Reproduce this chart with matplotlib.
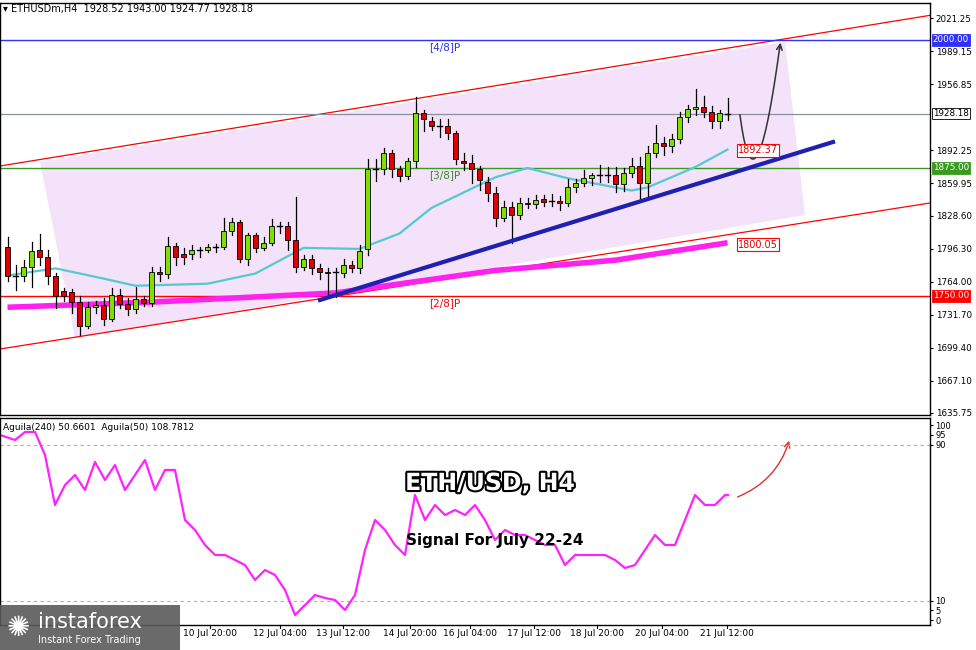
import matplotlib
matplotlib.use("Agg")
import matplotlib.pyplot as plt
import numpy as np
from matplotlib.patches import Polygon, FancyArrowPatch, Rectangle
import matplotlib.patheffects as pe

W, H = 976, 650
opens = [1798,1770,1770,1778,1795,1788,1770,1755,1754,1744,1721,1739,1741,1728,1751,1742,1737,1747,1743,1773,1771,1799,1791,1791,1795,1795,1798,1798,1813,1822,1786,1810,1797,1802,1818,1818,1805,1778,1786,1777,1773,1773,1772,1780,1777,1796,1874,1874,1890,1874,1867,1882,1929,1921,1916,1916,1909,1882,1880,1874,1861,1851,1826,1837,1829,1841,1840,1845,1843,1843,1841,1856,1860,1865,1868,1868,1868,1859,1870,1877,1860,1890,1899,1896,1903,1925,1933,1935,1930,1921,1928]
closes = [1770,1770,1778,1794,1788,1770,1750,1750,1744,1721,1739,1741,1728,1751,1742,1737,1747,1743,1773,1771,1799,1788,1788,1795,1795,1798,1798,1813,1822,1786,1810,1797,1802,1818,1818,1805,1778,1786,1777,1773,1772,1773,1780,1777,1794,1874,1874,1890,1874,1867,1882,1929,1923,1916,1916,1909,1884,1880,1874,1863,1851,1826,1837,1829,1841,1840,1844,1842,1843,1841,1856,1860,1865,1868,1868,1868,1859,1870,1877,1860,1890,1899,1896,1903,1925,1933,1935,1930,1921,1929,1928]
highs = [1808,1780,1785,1803,1811,1795,1772,1758,1757,1750,1744,1745,1748,1758,1757,1748,1759,1750,1778,1778,1808,1802,1797,1800,1798,1801,1801,1826,1826,1824,1812,1812,1808,1825,1822,1822,1847,1790,1790,1781,1777,1777,1786,1784,1800,1884,1884,1895,1893,1877,1885,1944,1932,1925,1923,1923,1911,1890,1888,1877,1866,1856,1843,1842,1846,1846,1849,1849,1850,1848,1864,1864,1873,1870,1878,1876,1876,1875,1885,1886,1896,1917,1905,1908,1930,1937,1952,1945,1936,1932,1943]
lows = [1765,1756,1765,1759,1780,1762,1738,1745,1733,1712,1719,1733,1722,1726,1738,1731,1733,1740,1740,1765,1768,1780,1781,1786,1788,1793,1793,1796,1810,1783,1780,1793,1795,1800,1812,1795,1773,1775,1771,1767,1749,1749,1769,1773,1772,1790,1862,1869,1866,1862,1864,1876,1911,1912,1905,1903,1879,1873,1860,1854,1843,1818,1823,1802,1825,1836,1836,1838,1838,1834,1838,1852,1857,1858,1861,1861,1852,1853,1866,1844,1848,1886,1888,1891,1899,1920,1927,1925,1914,1914,1922]

ma_fast_idx = [0,6,12,16,25,31,37,44,49,53,61,65,70,78,80,86,90]
ma_fast = [1770,1777,1767,1760,1762,1772,1797,1796,1811,1836,1866,1875,1865,1853,1856,1876,1893]
ma_slow_idx = [0,18,41,61,76,90]
ma_slow = [1739,1744,1753,1775,1785,1802]

osc_x = [0,15,25,35,45,55,65,75,85,95,105,115,125,135,145,155,165,175,185,195,205,215,225,235,245,255,265,275,285,295,305,315,325,335,345,355,365,375,385,395,405,415,425,435,445,455,465,475,485,495,505,515,525,535,545,555,565,575,585,595,605,615,625,635,645,655,665,675,685,695,705,715,725,728]
osc_y = [435,440,432,432,455,505,485,475,490,462,480,465,490,475,460,490,470,470,520,530,545,555,555,560,565,580,570,575,590,615,605,595,598,600,610,595,550,520,530,545,555,495,520,505,515,510,515,505,520,540,530,535,535,540,545,545,565,555,555,555,555,560,568,565,550,535,545,545,520,495,505,505,495,495]
osc_vals = [(620 - y) / 195 * 100 for y in osc_y]

price_ticks = [2021.25,1989.15,1956.85,1892.25,1859.95,1828.60,1796.30,1764.00,1731.70,1699.40,1667.10,1635.75]
time_labels = ["10 Jul 20:00","12 Jul 04:00","13 Jul 12:00","14 Jul 20:00","16 Jul 04:00","17 Jul 12:00","18 Jul 20:00","20 Jul 04:00","21 Jul 12:00"]
time_px = [210,280,343,410,470,534,597,662,727]

fig = plt.figure(figsize=(W/100, H/100), dpi=100)
fig.patch.set_facecolor("white")
CW = 930
def px2idx(x): return (x - 7.5) / 8
def py2p(y): return 2000 - (y - 40) * 250/256

mt, mb = 3, 415
ax = fig.add_axes([0, 1 - mb/H, CW/W, (mb-mt)/H])
ax.set_xlim(px2idx(0), px2idx(CW))
ax.set_ylim(py2p(mb), py2p(mt))
for s in ax.spines.values(): s.set_color("black"); s.set_linewidth(1)
ax.set_xticks([]); ax.yaxis.tick_right()
ax.set_yticks(price_ticks)
ax.set_yticklabels([f"{v:.2f}" for v in price_ticks], fontsize=6.3)
ax.tick_params(axis='y', length=2, pad=2)

poly = [(40,162),(785,42),(805,215),(75,338)]
ax.add_patch(Polygon([(px2idx(x), py2p(y)) for x,y in poly], closed=True, facecolor="#f3e2fa", edgecolor="none", zorder=0))
ax.plot([px2idx(0), px2idx(CW)], [py2p(166), py2p(166-0.162*CW)], color="red", lw=0.9)
ax.plot([px2idx(0), px2idx(CW)], [py2p(349), py2p(349-0.157*CW)], color="red", lw=0.9)
ax.axhline(2000, color="#3030ff", lw=1)
ax.axhline(1928.18, color="#8890a0", lw=0.9)
ax.axhline(1875, color="#3a9a20", lw=1)
ax.axhline(1750, color="red", lw=1)
ax.text(px2idx(445), py2p(47), "[4/8]P", color="#3030ff", fontsize=7.5, ha="center", va="center")
ax.text(px2idx(445), py2p(175), "[3/8]P", color="#3a8a20", fontsize=7.5, ha="center", va="center")
ax.text(px2idx(445), py2p(303), "[2/8]P", color="red", fontsize=7.5, ha="center", va="center")

ax.plot(ma_slow_idx, ma_slow, color="#ff22ee", lw=4, solid_capstyle="butt", zorder=2)
ax.plot(ma_fast_idx, ma_fast, color="#55c8d0", lw=1.6, zorder=2)

for i,(o,c,h,l) in enumerate(zip(opens,closes,highs,lows)):
    ax.plot([i,i],[l,h], color="black", lw=0.9, zorder=3)
    col = "#7fe000" if c > o else "#e00000"
    if c == o:
        ax.plot([i-0.35,i+0.35],[c,c], color="black", lw=1, zorder=4)
    else:
        ax.add_patch(Rectangle((i-0.35, min(o,c)), 0.7, abs(c-o), facecolor=col, edgecolor="black", lw=0.6, zorder=4))

ax.plot([px2idx(320), px2idx(833)], [py2p(300), py2p(142)], color="#2020b0", lw=3, zorder=5)
tt = np.linspace(0,1,60)
bx = (1-tt)**2*740 + 2*(1-tt)*tt*755 + tt**2*780
by = (1-tt)**2*115 + 2*(1-tt)*tt*230 + tt**2*45
ax.plot(px2idx(bx), py2p(by), color="#333333", lw=1.1, zorder=6)
ax.annotate("", xy=(px2idx(781), py2p(40)), xytext=(px2idx(779), py2p(52)),
            arrowprops=dict(arrowstyle="->", color="#333333", lw=1.1))

for val, txt in [(1892.37,"1892.37"),(1800.05,"1800.05")]:
    ax.text(px2idx(738), val, txt, fontsize=7, color="#e00000", va="center", ha="left",
            bbox=dict(boxstyle="square,pad=0.15", fc="white", ec="red", lw=0.8), zorder=7)
ax.text(px2idx(3), py2p(9), "▾ ETHUSDm,H4  1928.52 1943.00 1924.77 1928.18", fontsize=7, va="center", ha="left")

for val, fc, tc in [(2000.00,"#3030ff","white"),(1928.18,"white","black"),(1875.00,"#3a9a20","white"),(1750.00,"red","white")]:
    ax.text(1.003, val, f"{val:.2f}", transform=ax.get_yaxis_transform(), fontsize=6.3, color=tc, va="center", ha="left",
            bbox=dict(boxstyle="square,pad=0.12", fc=fc, ec="black" if fc=="white" else fc, lw=0.6), zorder=8, clip_on=False)

lt, lb = 418, 625
def vy(y): return (620 - y)/195*100
ax2 = fig.add_axes([0, 1 - lb/H, CW/W, (lb-lt)/H])
ax2.set_xlim(0, CW); ax2.set_ylim(vy(lb), vy(lt))
for s in ax2.spines.values(): s.set_color("black"); s.set_linewidth(1)
ax2.set_xticks([]); ax2.yaxis.tick_right()
ax2.set_yticks([100,95,90,10,5,0]); ax2.set_yticklabels(["100","95","90","10","5","0"], fontsize=6)
ax2.tick_params(axis='y', length=2, pad=2)
for v in [90,10]:
    ax2.axhline(v, color="#b0b0b0", lw=0.8, ls=(0,(3,3)))
ax2.plot(osc_x, osc_vals, color="#ff22ff", lw=1.6)
ax2.text(3, vy(427), "Aguila(240) 50.6601  Aguila(50) 108.7812", fontsize=6.5, va="center")
ax2.text(490, vy(483), "ETH/USD, H4", fontsize=17, fontweight="bold", color="white", ha="center", va="center",
         path_effects=[pe.withStroke(linewidth=3, foreground="black")])
ax2.text(495, vy(540), "Signal For July 22-24", fontsize=11, fontweight="bold", color="black", ha="center", va="center")
ax2.add_patch(FancyArrowPatch((735, vy(498)), (790, vy(438)), connectionstyle="arc3,rad=0.25",
                              arrowstyle="->", mutation_scale=10, color="#e03030", lw=1))

for t, x in zip(time_labels, time_px):
    fig.text(x/W, 1 - 634/H, t, fontsize=6.5, ha="center", va="center")
    fig.add_artist(plt.Line2D([x/W, x/W], [1-625/H, 1-628/H], color="black", lw=0.8))

fig.add_artist(Rectangle((0, 0), 180/W, 45/H, transform=fig.transFigure, facecolor="#5a5a5a", edgecolor="none", alpha=0.9))
fig.text(38/W, 1-622/H, "instaforex", fontsize=15, color="white", va="center", ha="left")
fig.text(38/W, 1-640/H, "Instant Forex Trading", fontsize=7, color="white", va="center", ha="left")
fig.text(18/W, 1-628/H, "✺", fontsize=20, color="white", va="center", ha="center")

fig.savefig("out.png", dpi=100)
